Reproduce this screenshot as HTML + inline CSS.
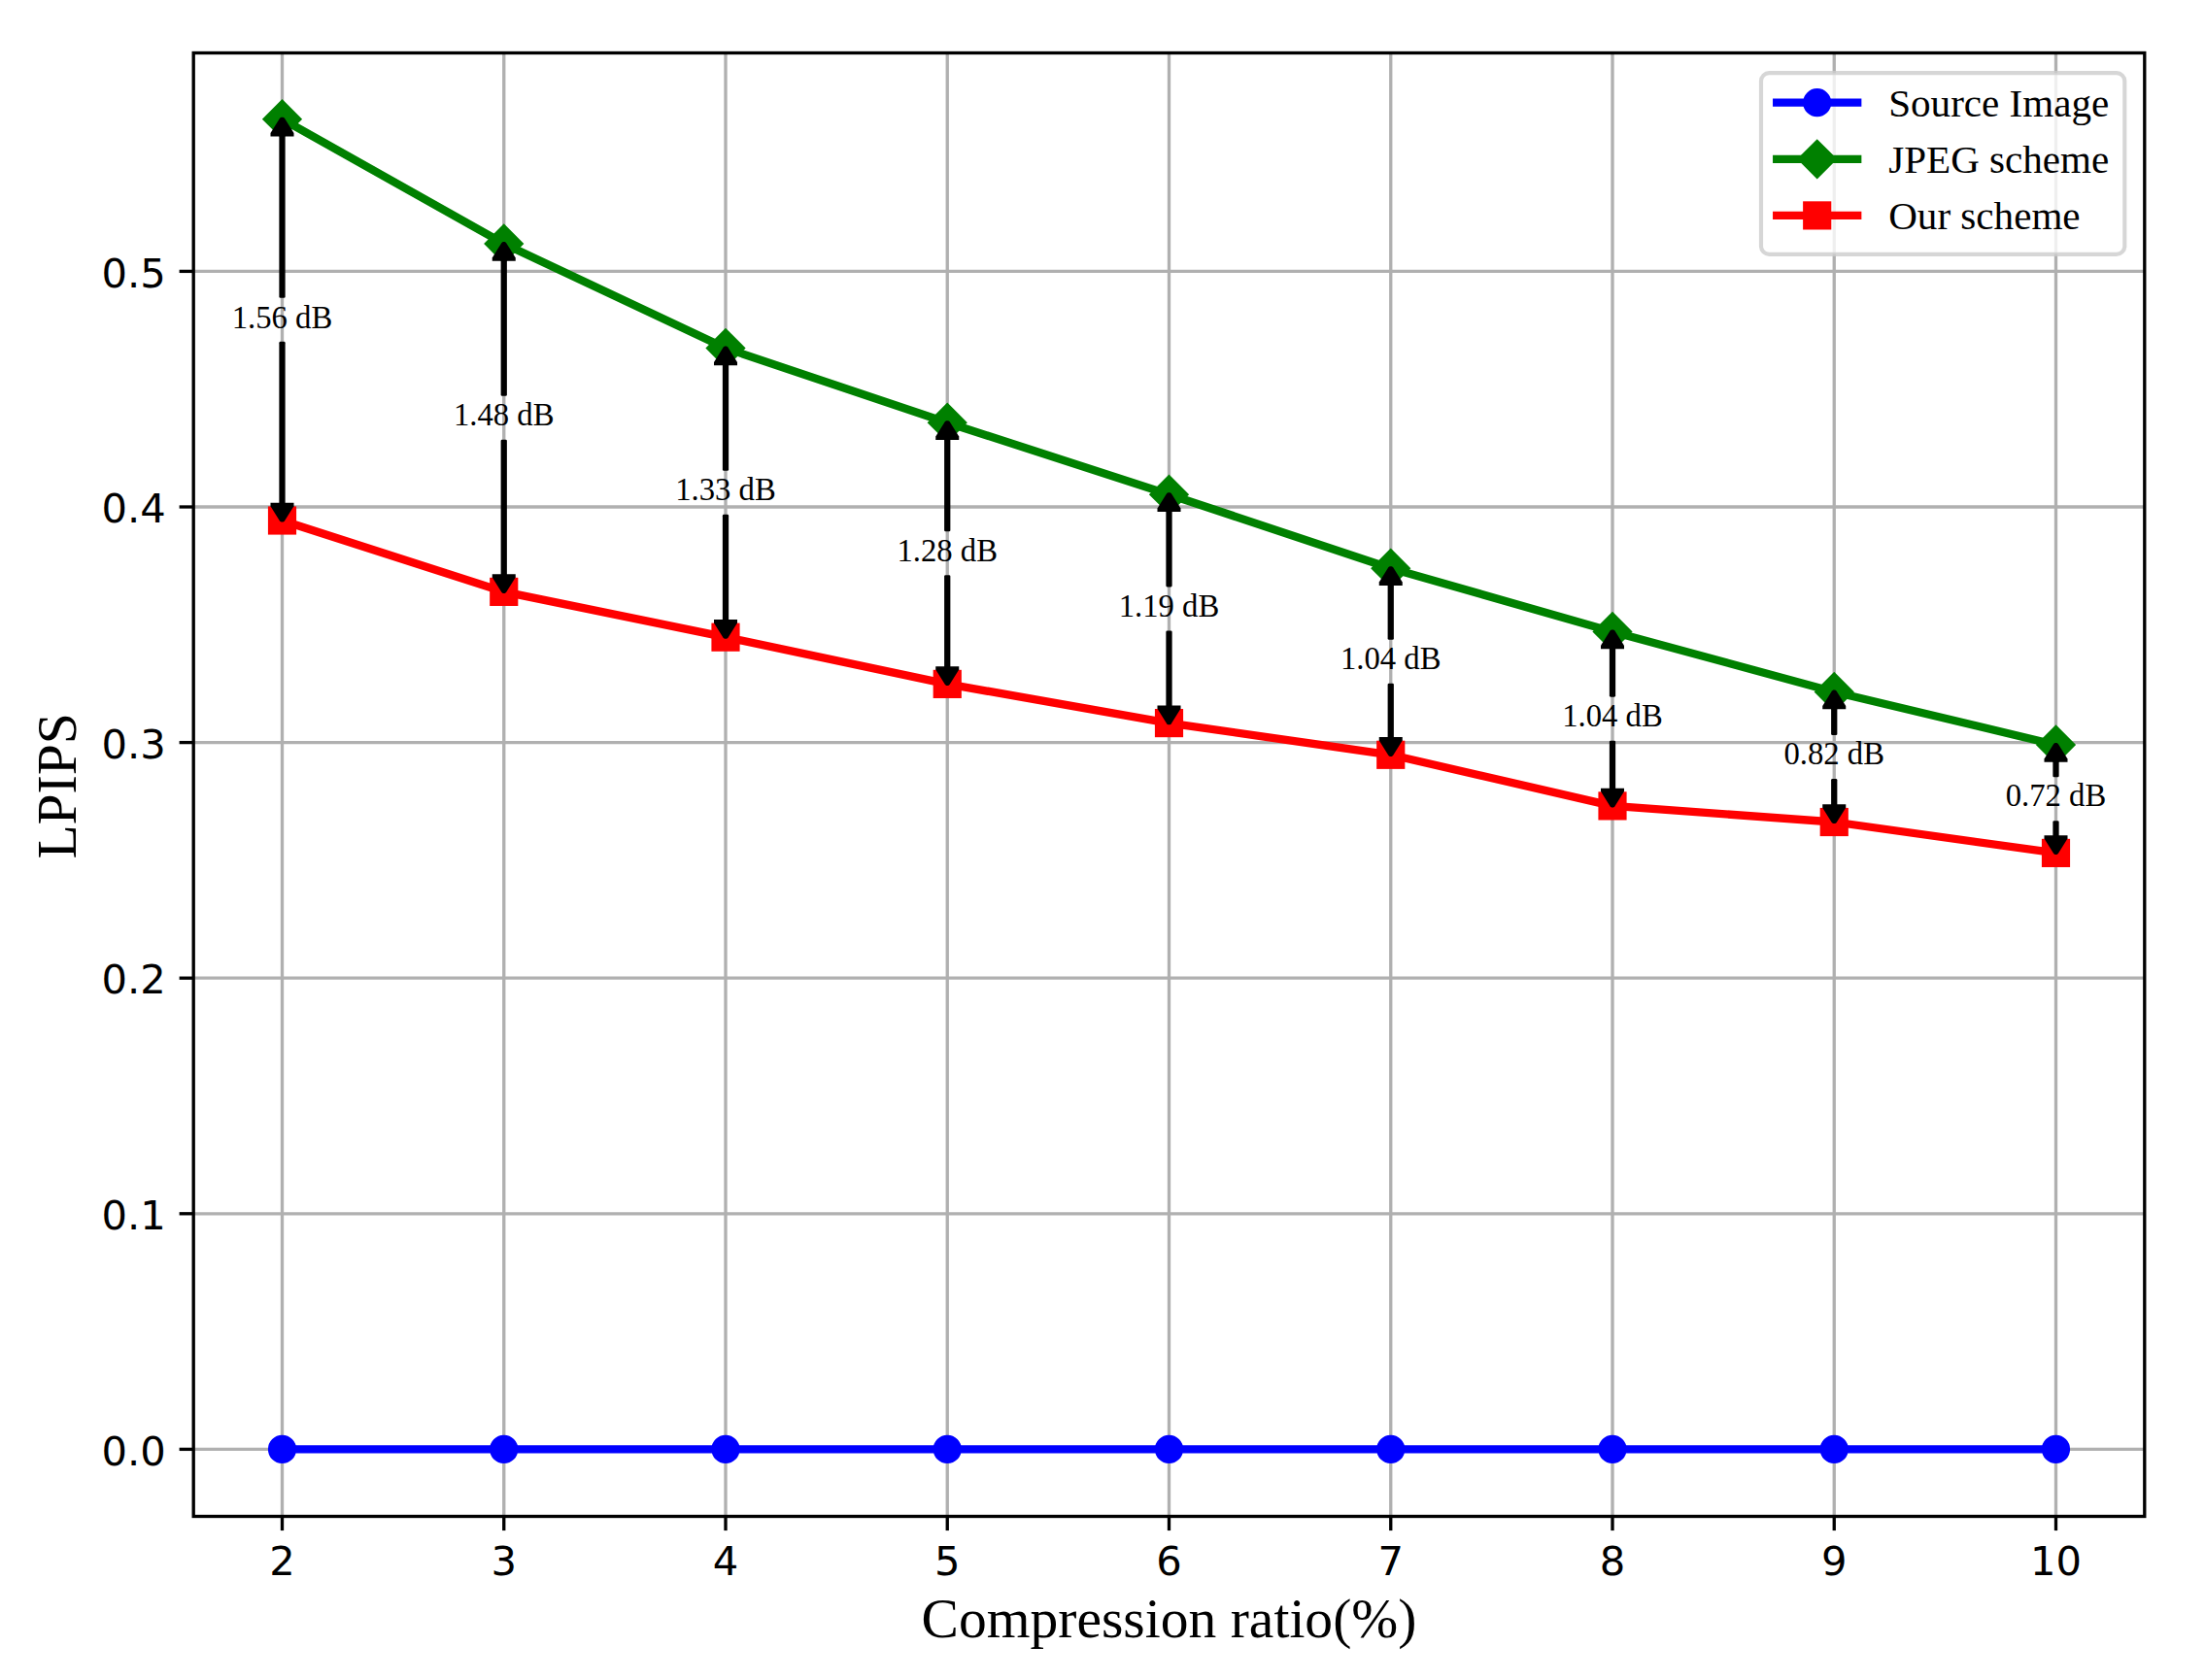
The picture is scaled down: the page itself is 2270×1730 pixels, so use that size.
<!DOCTYPE html>
<html lang="en"><head><meta charset="utf-8"><title>LPIPS vs Compression ratio</title>
<style>html,body{margin:0;padding:0;background:#fff}body{width:2270px;height:1730px;overflow:hidden}svg{display:block}.tk{font-family:"DejaVu Sans","Liberation Sans",sans-serif;font-size:41.67px;fill:#000}.sf{font-family:"Liberation Serif",serif;fill:#000}</style></head><body>
<svg width="2270" height="1730" viewBox="0 0 2270 1730">
<rect width="2270" height="1730" fill="#fff"/>
<g stroke="#b0b0b0" stroke-width="3.33" fill="none">
<line x1="290.50" y1="54.50" x2="290.50" y2="1561.50"/>
<line x1="518.75" y1="54.50" x2="518.75" y2="1561.50"/>
<line x1="747.00" y1="54.50" x2="747.00" y2="1561.50"/>
<line x1="975.25" y1="54.50" x2="975.25" y2="1561.50"/>
<line x1="1203.50" y1="54.50" x2="1203.50" y2="1561.50"/>
<line x1="1431.75" y1="54.50" x2="1431.75" y2="1561.50"/>
<line x1="1660.00" y1="54.50" x2="1660.00" y2="1561.50"/>
<line x1="1888.25" y1="54.50" x2="1888.25" y2="1561.50"/>
<line x1="2116.50" y1="54.50" x2="2116.50" y2="1561.50"/>
<line x1="199.20" y1="1492.40" x2="2207.80" y2="1492.40"/>
<line x1="199.20" y1="1249.80" x2="2207.80" y2="1249.80"/>
<line x1="199.20" y1="1007.20" x2="2207.80" y2="1007.20"/>
<line x1="199.20" y1="764.60" x2="2207.80" y2="764.60"/>
<line x1="199.20" y1="522.00" x2="2207.80" y2="522.00"/>
<line x1="199.20" y1="279.40" x2="2207.80" y2="279.40"/>
</g>
<g stroke="#000" stroke-width="3.33" fill="none">
<line x1="290.50" y1="1561.50" x2="290.50" y2="1576.10"/>
<line x1="518.75" y1="1561.50" x2="518.75" y2="1576.10"/>
<line x1="747.00" y1="1561.50" x2="747.00" y2="1576.10"/>
<line x1="975.25" y1="1561.50" x2="975.25" y2="1576.10"/>
<line x1="1203.50" y1="1561.50" x2="1203.50" y2="1576.10"/>
<line x1="1431.75" y1="1561.50" x2="1431.75" y2="1576.10"/>
<line x1="1660.00" y1="1561.50" x2="1660.00" y2="1576.10"/>
<line x1="1888.25" y1="1561.50" x2="1888.25" y2="1576.10"/>
<line x1="2116.50" y1="1561.50" x2="2116.50" y2="1576.10"/>
<line x1="184.60" y1="1492.40" x2="199.20" y2="1492.40"/>
<line x1="184.60" y1="1249.80" x2="199.20" y2="1249.80"/>
<line x1="184.60" y1="1007.20" x2="199.20" y2="1007.20"/>
<line x1="184.60" y1="764.60" x2="199.20" y2="764.60"/>
<line x1="184.60" y1="522.00" x2="199.20" y2="522.00"/>
<line x1="184.60" y1="279.40" x2="199.20" y2="279.40"/>
</g>
<g class="tk">
<text x="290.50" y="1621.5" text-anchor="middle">2</text>
<text x="518.75" y="1621.5" text-anchor="middle">3</text>
<text x="747.00" y="1621.5" text-anchor="middle">4</text>
<text x="975.25" y="1621.5" text-anchor="middle">5</text>
<text x="1203.50" y="1621.5" text-anchor="middle">6</text>
<text x="1431.75" y="1621.5" text-anchor="middle">7</text>
<text x="1660.00" y="1621.5" text-anchor="middle">8</text>
<text x="1888.25" y="1621.5" text-anchor="middle">9</text>
<text x="2116.50" y="1621.5" text-anchor="middle">10</text>
<text x="170.8" y="1508.50" text-anchor="end">0.0</text>
<text x="170.8" y="1265.90" text-anchor="end">0.1</text>
<text x="170.8" y="1023.30" text-anchor="end">0.2</text>
<text x="170.8" y="780.70" text-anchor="end">0.3</text>
<text x="170.8" y="538.10" text-anchor="end">0.4</text>
<text x="170.8" y="295.50" text-anchor="end">0.5</text>
</g>
<polyline points="290.50,1492.40 518.75,1492.40 747.00,1492.40 975.25,1492.40 1203.50,1492.40 1431.75,1492.40 1660.00,1492.40 1888.25,1492.40 2116.50,1492.40" fill="none" stroke="#0000ff" stroke-width="8.33" stroke-linejoin="round" stroke-linecap="square"/>
<circle cx="290.50" cy="1492.40" r="12.50" fill="#0000ff" stroke="#0000ff" stroke-width="4.17"/>
<circle cx="518.75" cy="1492.40" r="12.50" fill="#0000ff" stroke="#0000ff" stroke-width="4.17"/>
<circle cx="747.00" cy="1492.40" r="12.50" fill="#0000ff" stroke="#0000ff" stroke-width="4.17"/>
<circle cx="975.25" cy="1492.40" r="12.50" fill="#0000ff" stroke="#0000ff" stroke-width="4.17"/>
<circle cx="1203.50" cy="1492.40" r="12.50" fill="#0000ff" stroke="#0000ff" stroke-width="4.17"/>
<circle cx="1431.75" cy="1492.40" r="12.50" fill="#0000ff" stroke="#0000ff" stroke-width="4.17"/>
<circle cx="1660.00" cy="1492.40" r="12.50" fill="#0000ff" stroke="#0000ff" stroke-width="4.17"/>
<circle cx="1888.25" cy="1492.40" r="12.50" fill="#0000ff" stroke="#0000ff" stroke-width="4.17"/>
<circle cx="2116.50" cy="1492.40" r="12.50" fill="#0000ff" stroke="#0000ff" stroke-width="4.17"/>
<polyline points="290.50,122.70 518.75,251.00 747.00,358.50 975.25,435.20 1203.50,509.20 1431.75,585.20 1660.00,650.40 1888.25,712.50 2116.50,767.00" fill="none" stroke="#008000" stroke-width="8.33" stroke-linejoin="round" stroke-linecap="square"/>
<polygon points="290.50,105.02 308.18,122.70 290.50,140.38 272.82,122.70" fill="#008000" stroke="#008000" stroke-width="4.17" stroke-linejoin="miter"/>
<polygon points="518.75,233.32 536.43,251.00 518.75,268.68 501.07,251.00" fill="#008000" stroke="#008000" stroke-width="4.17" stroke-linejoin="miter"/>
<polygon points="747.00,340.82 764.68,358.50 747.00,376.18 729.32,358.50" fill="#008000" stroke="#008000" stroke-width="4.17" stroke-linejoin="miter"/>
<polygon points="975.25,417.52 992.93,435.20 975.25,452.88 957.57,435.20" fill="#008000" stroke="#008000" stroke-width="4.17" stroke-linejoin="miter"/>
<polygon points="1203.50,491.52 1221.18,509.20 1203.50,526.88 1185.82,509.20" fill="#008000" stroke="#008000" stroke-width="4.17" stroke-linejoin="miter"/>
<polygon points="1431.75,567.52 1449.43,585.20 1431.75,602.88 1414.07,585.20" fill="#008000" stroke="#008000" stroke-width="4.17" stroke-linejoin="miter"/>
<polygon points="1660.00,632.72 1677.68,650.40 1660.00,668.08 1642.32,650.40" fill="#008000" stroke="#008000" stroke-width="4.17" stroke-linejoin="miter"/>
<polygon points="1888.25,694.82 1905.93,712.50 1888.25,730.18 1870.57,712.50" fill="#008000" stroke="#008000" stroke-width="4.17" stroke-linejoin="miter"/>
<polygon points="2116.50,749.32 2134.18,767.00 2116.50,784.68 2098.82,767.00" fill="#008000" stroke="#008000" stroke-width="4.17" stroke-linejoin="miter"/>
<polyline points="290.50,536.00 518.75,609.40 747.00,656.20 975.25,704.40 1203.50,744.60 1431.75,777.30 1660.00,829.90 1888.25,846.50 2116.50,878.40" fill="none" stroke="#ff0000" stroke-width="8.33" stroke-linejoin="round" stroke-linecap="square"/>
<rect x="278.00" y="523.50" width="25.00" height="25.00" fill="#ff0000" stroke="#ff0000" stroke-width="4.17"/>
<rect x="506.25" y="596.90" width="25.00" height="25.00" fill="#ff0000" stroke="#ff0000" stroke-width="4.17"/>
<rect x="734.50" y="643.70" width="25.00" height="25.00" fill="#ff0000" stroke="#ff0000" stroke-width="4.17"/>
<rect x="962.75" y="691.90" width="25.00" height="25.00" fill="#ff0000" stroke="#ff0000" stroke-width="4.17"/>
<rect x="1191.00" y="732.10" width="25.00" height="25.00" fill="#ff0000" stroke="#ff0000" stroke-width="4.17"/>
<rect x="1419.25" y="764.80" width="25.00" height="25.00" fill="#ff0000" stroke="#ff0000" stroke-width="4.17"/>
<rect x="1647.50" y="817.40" width="25.00" height="25.00" fill="#ff0000" stroke="#ff0000" stroke-width="4.17"/>
<rect x="1875.75" y="834.00" width="25.00" height="25.00" fill="#ff0000" stroke="#ff0000" stroke-width="4.17"/>
<rect x="2104.00" y="865.90" width="25.00" height="25.00" fill="#ff0000" stroke="#ff0000" stroke-width="4.17"/>
<rect x="199.20" y="54.50" width="2008.60" height="1507.00" fill="none" stroke="#000" stroke-width="3.33"/>
<g>
<rect x="287.38" y="138.50" width="6.25" height="168.35" rx="1.3" fill="#000"/>
<polygon points="278.50,140.50 278.50,137.10 288.20,121.60 289.50,120.70 291.50,120.70 292.80,121.60 302.50,137.10 302.50,140.50" fill="#000"/>
<rect x="287.38" y="351.85" width="6.25" height="167.95" rx="1.3" fill="#000"/>
<polygon points="278.50,517.80 278.50,521.20 288.20,536.70 289.50,537.60 291.50,537.60 292.80,536.70 302.50,521.20 302.50,517.80" fill="#000"/>
<rect x="515.62" y="266.80" width="6.25" height="140.90" rx="1.3" fill="#000"/>
<polygon points="506.75,268.80 506.75,265.40 516.45,249.90 517.75,249.00 519.75,249.00 521.05,249.90 530.75,265.40 530.75,268.80" fill="#000"/>
<rect x="515.62" y="452.70" width="6.25" height="140.50" rx="1.3" fill="#000"/>
<polygon points="506.75,591.20 506.75,594.60 516.45,610.10 517.75,611.00 519.75,611.00 521.05,610.10 530.75,594.60 530.75,591.20" fill="#000"/>
<rect x="743.88" y="374.30" width="6.25" height="110.55" rx="1.3" fill="#000"/>
<polygon points="735.00,376.30 735.00,372.90 744.70,357.40 746.00,356.50 748.00,356.50 749.30,357.40 759.00,372.90 759.00,376.30" fill="#000"/>
<rect x="743.88" y="529.85" width="6.25" height="110.15" rx="1.3" fill="#000"/>
<polygon points="735.00,638.00 735.00,641.40 744.70,656.90 746.00,657.80 748.00,657.80 749.30,656.90 759.00,641.40 759.00,638.00" fill="#000"/>
<rect x="972.12" y="451.00" width="6.25" height="96.30" rx="1.3" fill="#000"/>
<polygon points="963.25,453.00 963.25,449.60 972.95,434.10 974.25,433.20 976.25,433.20 977.55,434.10 987.25,449.60 987.25,453.00" fill="#000"/>
<rect x="972.12" y="592.30" width="6.25" height="95.90" rx="1.3" fill="#000"/>
<polygon points="963.25,686.20 963.25,689.60 972.95,705.10 974.25,706.00 976.25,706.00 977.55,705.10 987.25,689.60 987.25,686.20" fill="#000"/>
<rect x="1200.38" y="525.00" width="6.25" height="79.40" rx="1.3" fill="#000"/>
<polygon points="1191.50,527.00 1191.50,523.60 1201.20,508.10 1202.50,507.20 1204.50,507.20 1205.80,508.10 1215.50,523.60 1215.50,527.00" fill="#000"/>
<rect x="1200.38" y="649.40" width="6.25" height="79.00" rx="1.3" fill="#000"/>
<polygon points="1191.50,726.40 1191.50,729.80 1201.20,745.30 1202.50,746.20 1204.50,746.20 1205.80,745.30 1215.50,729.80 1215.50,726.40" fill="#000"/>
<rect x="1428.62" y="601.00" width="6.25" height="57.75" rx="1.3" fill="#000"/>
<polygon points="1419.75,603.00 1419.75,599.60 1429.45,584.10 1430.75,583.20 1432.75,583.20 1434.05,584.10 1443.75,599.60 1443.75,603.00" fill="#000"/>
<rect x="1428.62" y="703.75" width="6.25" height="57.35" rx="1.3" fill="#000"/>
<polygon points="1419.75,759.10 1419.75,762.50 1429.45,778.00 1430.75,778.90 1432.75,778.90 1434.05,778.00 1443.75,762.50 1443.75,759.10" fill="#000"/>
<rect x="1656.88" y="666.20" width="6.25" height="51.45" rx="1.3" fill="#000"/>
<polygon points="1648.00,668.20 1648.00,664.80 1657.70,649.30 1659.00,648.40 1661.00,648.40 1662.30,649.30 1672.00,664.80 1672.00,668.20" fill="#000"/>
<rect x="1656.88" y="762.65" width="6.25" height="51.05" rx="1.3" fill="#000"/>
<polygon points="1648.00,811.70 1648.00,815.10 1657.70,830.60 1659.00,831.50 1661.00,831.50 1662.30,830.60 1672.00,815.10 1672.00,811.70" fill="#000"/>
<rect x="1885.12" y="728.30" width="6.25" height="28.70" rx="1.3" fill="#000"/>
<polygon points="1876.25,730.30 1876.25,726.90 1885.95,711.40 1887.25,710.50 1889.25,710.50 1890.55,711.40 1900.25,726.90 1900.25,730.30" fill="#000"/>
<rect x="1885.12" y="802.00" width="6.25" height="28.30" rx="1.3" fill="#000"/>
<polygon points="1876.25,828.30 1876.25,831.70 1885.95,847.20 1887.25,848.10 1889.25,848.10 1890.55,847.20 1900.25,831.70 1900.25,828.30" fill="#000"/>
<rect x="2113.38" y="782.80" width="6.25" height="17.40" rx="1.3" fill="#000"/>
<polygon points="2104.50,784.80 2104.50,781.40 2114.20,765.90 2115.50,765.00 2117.50,765.00 2118.80,765.90 2128.50,781.40 2128.50,784.80" fill="#000"/>
<rect x="2113.38" y="845.20" width="6.25" height="17.00" rx="1.3" fill="#000"/>
<polygon points="2104.50,860.20 2104.50,863.60 2114.20,879.10 2115.50,880.00 2117.50,880.00 2118.80,879.10 2128.50,863.60 2128.50,860.20" fill="#000"/>
</g>
<g class="sf" font-size="32.7px" text-anchor="middle">
<text x="290.50" y="338.10">1.56 dB</text>
<text x="518.75" y="438.00">1.48 dB</text>
<text x="747.00" y="514.80">1.33 dB</text>
<text x="975.25" y="577.80">1.28 dB</text>
<text x="1203.50" y="635.30">1.19 dB</text>
<text x="1431.75" y="688.80">1.04 dB</text>
<text x="1660.00" y="747.90">1.04 dB</text>
<text x="1888.25" y="786.50">0.82 dB</text>
<text x="2116.50" y="830.40">0.72 dB</text>
</g>
<text class="sf" font-size="57.55px" text-anchor="middle" x="1203.5" y="1686">Compression ratio(%)</text>
<text class="sf" font-size="57.55px" text-anchor="middle" transform="translate(78.1,809.4) rotate(-90)">LPIPS</text>
<rect x="1813.00" y="75.20" width="374.30" height="186.60" rx="8.33" ry="8.33" fill="#fff" fill-opacity="0.8" stroke="#cccccc" stroke-opacity="0.8" stroke-width="4.17"/>
<line x1="1829.20" y1="105.70" x2="1912.20" y2="105.70" stroke="#0000ff" stroke-width="8.33" stroke-linecap="square"/>
<line x1="1829.20" y1="163.80" x2="1912.20" y2="163.80" stroke="#008000" stroke-width="8.33" stroke-linecap="square"/>
<line x1="1829.20" y1="221.90" x2="1912.20" y2="221.90" stroke="#ff0000" stroke-width="8.33" stroke-linecap="square"/>
<circle cx="1870.70" cy="105.70" r="12.50" fill="#0000ff" stroke="#0000ff" stroke-width="4.17"/>
<polygon points="1870.70,146.12 1888.38,163.80 1870.70,181.48 1853.02,163.80" fill="#008000" stroke="#008000" stroke-width="4.17" stroke-linejoin="miter"/>
<rect x="1858.20" y="209.40" width="25.00" height="25.00" fill="#ff0000" stroke="#ff0000" stroke-width="4.17"/>
<g class="sf" font-size="41.1px">
<text x="1944.2" y="120.40">Source Image</text>
<text x="1944.2" y="178.30">JPEG scheme</text>
<text x="1944.2" y="236.10">Our scheme</text>
</g>
</svg></body></html>
